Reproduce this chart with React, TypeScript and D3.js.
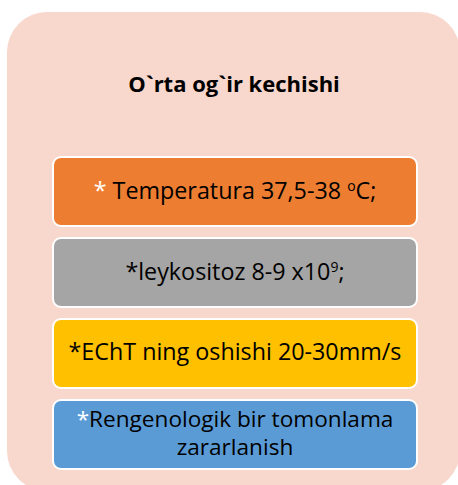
import { scaleBand } from "d3";

// each box: lines of segments; "w" = white asterisk, "s" = superscript
type Seg = { t: string; k?: "w" | "s" };

const title = "O`rta og`ir kechishi";
const boxKeys = ["temp", "leyk", "echt", "rent"];
const boxColors = ["#ED7D31", "#A5A5A5", "#FFC000", "#5B9BD5"];
const boxLines: Seg[][][] = [
  [[{ t: "*", k: "w" }, { t: " Temperatura 37,5-38 " }, { t: "o", k: "s" }, { t: "C;" }]],
  [[{ t: "*leykositoz 8-9 x10" }, { t: "9", k: "s" }, { t: ";" }]],
  [[{ t: "*EChT ning oshishi 20-30mm/s" }]],
  [[{ t: "*", k: "w" }, { t: "Rengenologik bir tomonlama" }], [{ t: "zararlanish" }]],
];

const W = 458;
const H = 485;

function App() {
  const y = scaleBand<string>()
    .domain(boxKeys)
    .range([157, 469])
    .paddingInner(0.148);
  const boxX = 53;
  const boxW = 364;
  const font = "'Open Sans', sans-serif";

  return (
    <svg
      width={W}
      height={H}
      style={{ position: "absolute", left: 0, top: 0 }}
    >
      <rect x={0} y={0} width={W} height={H} fill="#fff" />
      <rect x={7} y={12} width={453} height={479} rx={40} fill="#F8D7CC" />
      <text
        x={234}
        y={92}
        textAnchor="middle"
        fontFamily={font}
        fontWeight="bold"
        fontSize={22}
        fill="#000"
      >
        {title}
      </text>
      {boxKeys.map((k, i) => {
        const top = y(k)!;
        const h = y.bandwidth();
        const lines = boxLines[i];
        const lh = 28;
        const cy = top + h / 2;
        const firstBase = cy + 7 - ((lines.length - 1) * lh) / 2;
        return (
          <g key={k}>
            <rect
              x={boxX}
              y={top}
              width={boxW}
              height={h}
              rx={8}
              fill={boxColors[i]}
              stroke="#fff"
              strokeWidth={2}
            />
            {lines.map((segs, j) => (
              <text
                key={j}
                x={boxX + boxW / 2}
                y={firstBase + j * lh}
                textAnchor="middle"
                fontFamily={font}
                fontSize={lines.length > 1 ? 22.6 : 23.3}
                fill="#000"
              >
                {segs.map((s, m) =>
                  s.k === "s" ? (
                    <tspan key={m} fontSize={14} baselineShift="60%">
                      {s.t}
                    </tspan>
                  ) : (
                    <tspan key={m} fill={s.k === "w" ? "#fff" : undefined}>
                      {s.t}
                    </tspan>
                  )
                )}
              </text>
            ))}
          </g>
        );
      })}
    </svg>
  );
}

export default App;
